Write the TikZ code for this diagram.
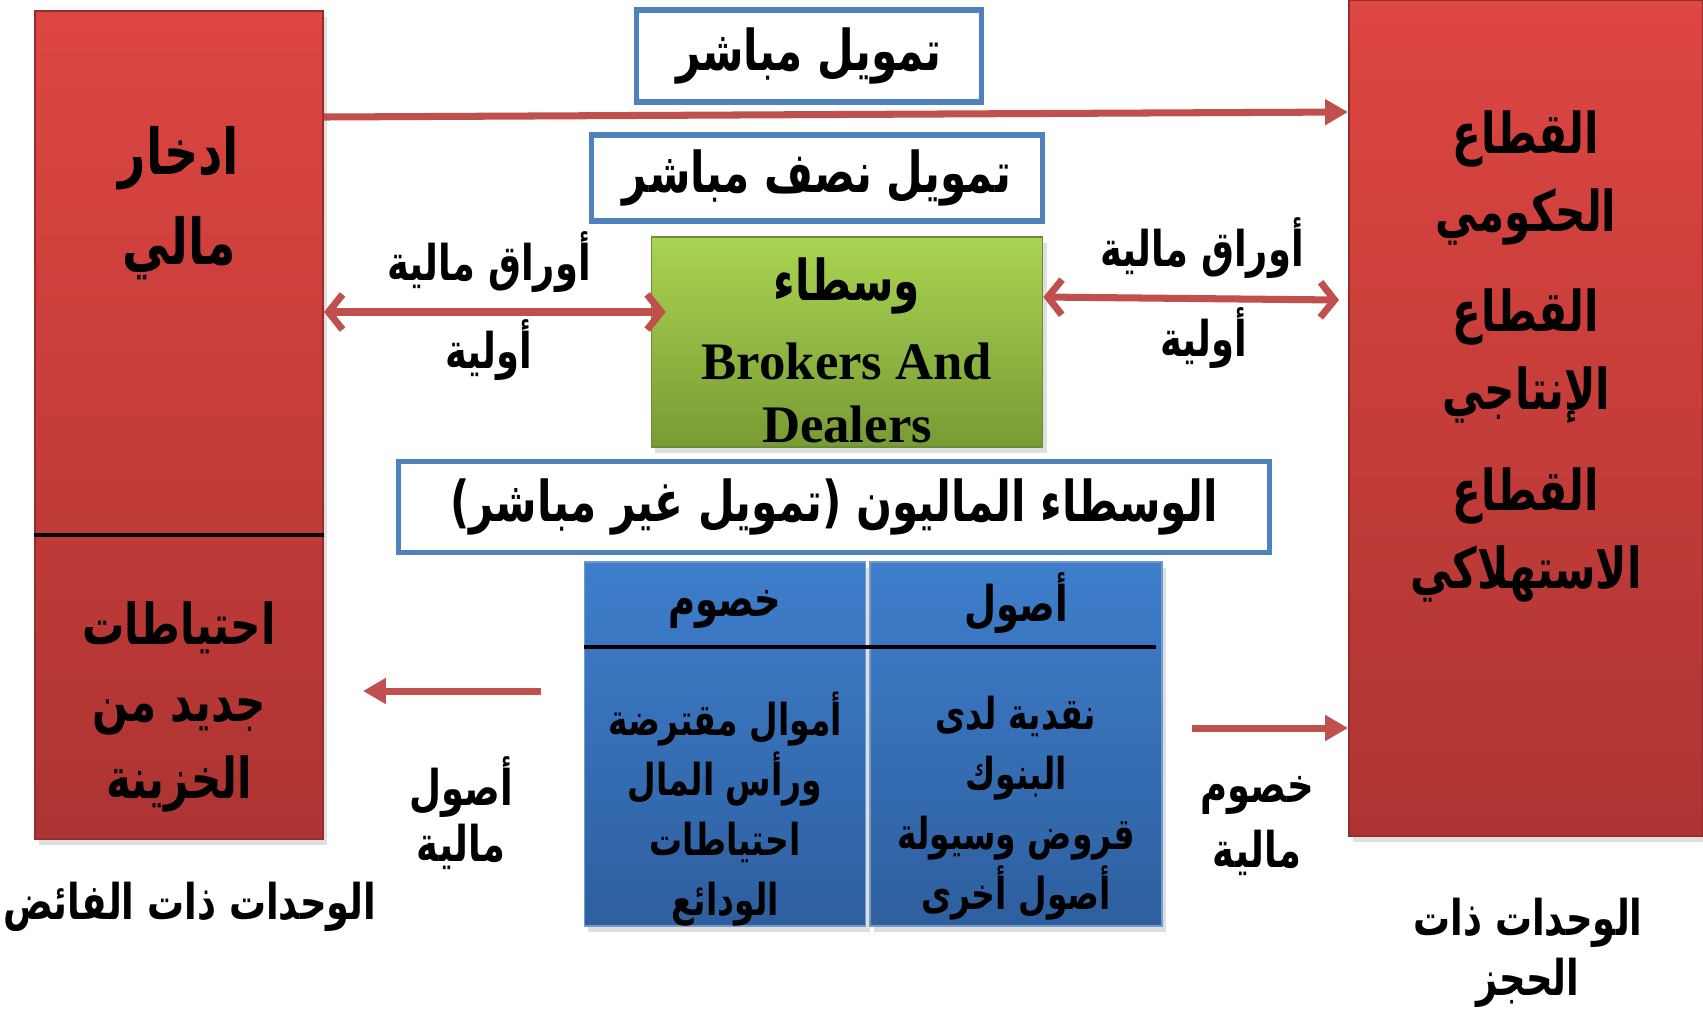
\documentclass[tikz,border=0pt]{standalone}
\usepackage{fontspec}
\setmainfont{Liberation Serif}
\newfontfamily\arabicfont[Script=Arabic, FakeStretch=0.75]{DejaVu Sans}
\TeXXeTstate=1
\usepackage{tikz}
\usetikzlibrary{positioning,arrows.meta,shadows}

\definecolor{redtop}{RGB}{222,70,66}
\definecolor{redbot}{RGB}{172,52,50}
\definecolor{redline}{RGB}{150,45,42}
\definecolor{greentop}{RGB}{170,212,82}
\definecolor{greenbot}{RGB}{120,155,52}
\definecolor{greenline}{RGB}{110,140,50}
\definecolor{bluetop}{RGB}{62,126,204}
\definecolor{bluebot}{RGB}{46,95,158}
\definecolor{frameblue}{RGB}{79,129,189}
\definecolor{arrowred}{RGB}{192,80,77}

\newcommand{\artxt}[1]{\beginR #1\endR}

\begin{document}
\begin{tikzpicture}[x=0.01cm, y=-0.01cm,
    boxshadow/.style={drop shadow={opacity=0.25,
        shadow xshift=0.04cm, shadow yshift=-0.06cm}},
    redbox/.style={draw=redline, line width=0.5pt,
        top color=redtop, bottom color=redbot, boxshadow},
    framebox/.style={draw=frameblue, line width=1.5pt, fill=white},
    artext/.style={font=\arabicfont\bfseries\fontsize{16}{22}\selectfont,
        align=center},
    arlabel/.style={font=\arabicfont\bfseries\fontsize{14}{17}\selectfont,
        align=center},
    arsmall/.style={font=\arabicfont\bfseries\fontsize{12.5}{17}\selectfont,
        align=center},
    flow/.style={draw=arrowred, line width=2pt,
        -{Triangle[length=6.5pt,width=7pt]}},
    twoway/.style={draw=arrowred, line width=2pt,
        {Straight Barb[length=4pt,width=10pt]}-{Straight Barb[length=4pt,width=10pt]}}
]
    \useasboundingbox (0,0) rectangle (1703,1011);

    % surplus units
    \node[redbox,
        minimum width=2.88cm,
        minimum height=8.28cm
    ] (surplus) at (179,425) {};
    \draw[line width=1.2pt] (surplus.west |- 0,535) -- (surplus.east |- 0,535);
    \node[artext, font=\arabicfont\bfseries\fontsize{18}{24}\selectfont]
        (saving) at (179,203) {\artxt{ادخار}\\[0.05cm]\artxt{مالي}};
    \node[artext] (reserves) at (179,707)
        {\artxt{احتياطات}\\\artxt{جديد من}\\\artxt{الخزينة}};

    % deficit units
    \node[redbox,
        minimum width=3.54cm,
        minimum height=8.36cm
    ] (deficit) at (1526,418) {};
    \node[artext] (gov) at (1526,178) {\artxt{القطاع}\\\artxt{الحكومي}};
    \node[artext] (prod) at (1526,356) {\artxt{القطاع}\\\artxt{الإنتاجي}};
    \node[artext] (cons) at (1526,535) {\artxt{القطاع}\\\artxt{الاستهلاكي}};

    % direct
    \node[framebox, artext,
        minimum width=3.45cm,
        minimum height=0.92cm
    ] (direct) at (809,56) {\artxt{تمويل مباشر}};

    % semi direct
    \node[framebox, artext,
        minimum width=4.51cm,
        minimum height=0.86cm
    ] (semidirect) at (817,178) {\artxt{تمويل نصف مباشر}};

    % brokers
    \node[draw=greenline,
        top color=greentop,
        bottom color=greenbot,
        boxshadow,
        minimum width=3.91cm,
        minimum height=2.10cm
    ] (brokers) at (847,342) {};
    \node[artext] (wusata) at (847,286) {\artxt{وسطاء}};
    \node[font=\bfseries\fontsize{15}{18}\selectfont, align=center]
        (brokerstxt) at (847,393) {Brokers And\\Dealers};

    % indirect
    \node[framebox, artext,
        minimum width=8.70cm,
        minimum height=0.91cm
    ] (indirect) at (834,507) {\artxt{الوسطاء الماليون (تمويل غير مباشر)}};

    % balance sheet
    \node[draw=frameblue!80!white,
        top color=bluetop,
        bottom color=bluebot,
        boxshadow,
        minimum width=2.81cm,
        minimum height=3.64cm
    ] (liab) at (725,744) {};
    \node[draw=frameblue!80!white,
        top color=bluetop,
        bottom color=bluebot,
        boxshadow,
        minimum width=2.92cm,
        minimum height=3.64cm
    ] (assets) at (1016,744) {};
    \draw[line width=1.2pt] (liab.west |- 0,647) -- ([xshift=-0.07cm]assets.east |- 0,647);
    \node[arlabel] (liabhead) at (725,609) {\artxt{خصوم}};
    \node[arlabel] (assetshead) at (1016,603) {\artxt{أصول}};
    \node[arsmall] (liabbody) at (725,809)
        {\artxt{أموال مقترضة}\\\artxt{ورأس المال}\\\artxt{احتياطات}\\\artxt{الودائع}};
    \node[arsmall] (assetsbody) at (1016,808)
        {\artxt{نقدية لدى}\\\artxt{البنوك}\\\artxt{قروض وسيولة}\\\artxt{أصول أخرى}};

    % Arrows with text label
    \draw[flow] (surplus.east |- 0,117) -- (deficit.west |- 0,112);

    \draw[twoway] (surplus.east |- 0,312) -- ([xshift=0.15cm]brokers.west |- 0,312);
    \node[arlabel] at (489,262) {\artxt{أوراق مالية}};
    \node[arlabel] at (489,350) {\artxt{أولية}};

    \draw[twoway] (brokers.east |- 0,297) -- ([xshift=-0.09cm]deficit.west |- 0,300);
    \node[arlabel] at (1202,248) {\artxt{أوراق مالية}};
    \node[arlabel] at (1204,338) {\artxt{أولية}};

    \draw[flow] ([xshift=-0.43cm]liab.west |- 0,691) -- ([xshift=0.39cm]surplus.east |- 0,691);
    \node[arlabel] at (461,787) {\artxt{أصول}};
    \node[arlabel] at (461,847) {\artxt{مالية}};

    \draw[flow] ([xshift=0.29cm]assets.east |- 0,728) -- (deficit.west |- 0,728);
    \node[arlabel] at (1257,795) {\artxt{خصوم}};
    \node[arlabel] at (1257,853) {\artxt{مالية}};

    % unit labels
    \node[arlabel] (surpluslabel) at (190,907) {\artxt{الوحدات ذات الفائض}};
    \node[arlabel] (deficitlabel) at (1528,953) {\artxt{الوحدات ذات}\\\artxt{الحجز}};

\end{tikzpicture}
\end{document}
